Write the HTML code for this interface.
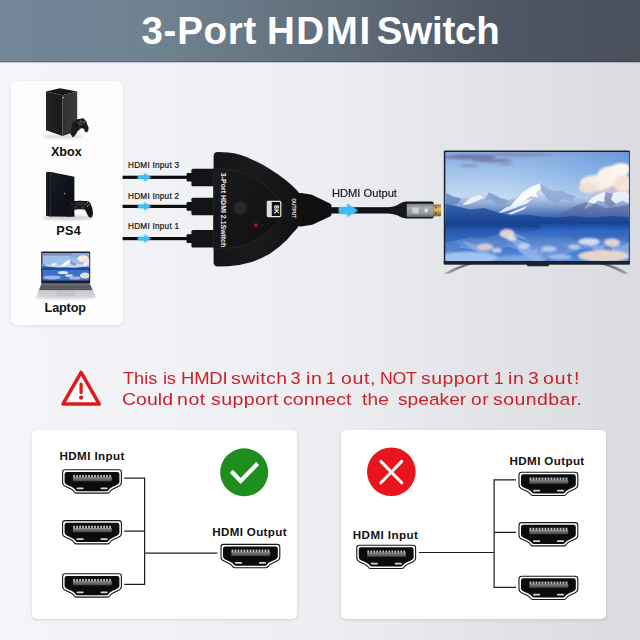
<!DOCTYPE html>
<html lang="en">
<head>
<meta charset="utf-8">
<title>3-Port HDMI Switch</title>
<style>
html,body{margin:0;padding:0;}
body{width:640px;height:640px;overflow:hidden;position:relative;font-family:"Liberation Sans",sans-serif;
  background:linear-gradient(90deg,#f4f5f9 0%,#f1f2f6 25%,#eceef1 50%,#e2e4e7 75%,#d9dbde 100%);}
#hdr{position:absolute;left:0;top:0;width:640px;height:62px;
  background:linear-gradient(90deg,#73869a 0%,#6f8290 25%,#5f6b78 55%,#4e5563 80%,#4a505c 100%);}
#hdr:after{content:"";position:absolute;left:0;right:0;bottom:-1px;height:2px;background:linear-gradient(180deg,rgba(40,45,55,.35),rgba(40,45,55,.18));}
.t{position:absolute;white-space:nowrap;line-height:1;margin:0;padding:0;}
.ttl{font-size:38.5px;font-weight:bold;color:#fff;}
.card{position:absolute;background:#fff;border-radius:6px;}
#devs{left:11px;top:81px;width:112px;height:244px;box-shadow:0 1px 3px rgba(120,130,150,.18);background:#fdfdfe;}
#pL{left:32px;top:430px;width:265px;height:189px;border-radius:5px;box-shadow:0 1px 3px rgba(90,95,110,.22);}
#pR{left:341px;top:430px;width:265px;height:189px;border-radius:5px;box-shadow:0 1px 3px rgba(90,95,110,.22);}
.dl{font-weight:bold;color:#111;font-size:12.6px;}
.il{color:#151515;font-size:8.2px;-webkit-text-stroke:.2px #151515;}
.olb{color:#151515;font-size:10.3px;transform-origin:0 0;-webkit-text-stroke:.15px #151515;}
.warn{color:#c9222b;font-size:17.4px;transform-origin:0 0;}
.pl{font-weight:bold;color:#111;font-size:11.6px;}
#gfx{position:absolute;left:0;top:0;width:640px;height:640px;}
</style>
</head>
<body>
<div id="hdr"></div>
<div id="title">
<span class="t ttl" style="left:141.5px;top:12px;letter-spacing:0.7px;">3-Port </span>
<span class="t ttl" style="left:267px;top:12px;letter-spacing:1.57px;">HDMI </span>
<span class="t ttl" style="left:376.8px;top:12px;letter-spacing:-0.22px;">Switch</span>
</div>

<div class="card" id="devs"></div>
<div class="card" id="pL"></div>
<div class="card" id="pR"></div>

<svg id="gfx" viewBox="0 0 640 640" width="640" height="640">
<defs>
<symbol id="port" viewBox="0 0 60 24.5" overflow="visible">
  <path d="M3.2,0.6 H56.8 Q59.4,0.6 59.4,3.2 V13.4 Q59.4,15.9 56.4,17.3 L51.4,19.6 Q48.8,20.8 47.8,22.6 Q47,23.9 45.4,23.9 H14.6 Q13,23.9 12.2,22.6 Q11.2,20.8 8.6,19.6 L3.6,17.3 Q0.6,15.9 0.6,13.4 V3.2 Q0.6,0.6 3.2,0.6Z" fill="#fff" stroke="#161616" stroke-width="1.1"/>
  <path d="M4.8,2.7 H55.2 Q57.4,2.7 57.4,4.9 V12.8 Q57.4,14.6 55.2,15.6 L50.2,17.9 Q47.4,19.2 46.2,21.2 Q45.7,22 44.6,22 H15.4 Q14.3,22 13.8,21.2 Q12.6,19.2 9.8,17.9 L4.8,15.6 Q2.6,14.6 2.6,12.8 V4.9 Q2.6,2.7 4.8,2.7Z" fill="#0b0b0c"/>
  <rect x="11" y="8" width="38.8" height="4.2" fill="url(#pins)"/>
  <path d="M11.2,8.2 V5.8 H12.9 V8.2 M14.2,8.2 V5.8 H15.9 V8.2 M17.2,8.2 V5.8 H18.9 V8.2 M20.2,8.2 V5.8 H21.9 V8.2 M23.2,8.2 V5.8 H24.9 V8.2 M26.2,8.2 V5.8 H27.9 V8.2 M29.2,8.2 V5.8 H30.9 V8.2 M32.2,8.2 V5.8 H33.9 V8.2 M35.2,8.2 V5.8 H36.9 V8.2 M38.2,8.2 V5.8 H39.9 V8.2 M41.2,8.2 V5.8 H42.9 V8.2 M44.2,8.2 V5.8 H45.9 V8.2 M47.2,8.2 V5.8 H48.9 V8.2" fill="#c9c9cb"/>
  <rect x="14.6" y="18.2" width="7" height="1.8" rx=".6" fill="#d6d6d8"/>
  <rect x="38.6" y="18.2" width="7" height="1.8" rx=".6" fill="#d6d6d8"/>
</symbol>
<linearGradient id="pins" x1="0" y1="0" x2="0" y2="1"><stop offset="0" stop-color="#8d8d90"/><stop offset="1" stop-color="#434346"/></linearGradient>
<filter id="glow" x="-30%" y="-60%" width="160%" height="220%"><feGaussianBlur stdDeviation="1.1"/></filter>
<filter id="b05"><feGaussianBlur stdDeviation="0.5"/></filter>
<filter id="b1"><feGaussianBlur stdDeviation="1"/></filter>
<filter id="b2" x="-20%" y="-20%" width="140%" height="140%"><feGaussianBlur stdDeviation="2"/></filter>
<linearGradient id="swbody" x1="0" y1="0" x2="1" y2="0"><stop offset="0" stop-color="#151517"/><stop offset=".5" stop-color="#1b1b1e"/><stop offset="1" stop-color="#111113"/></linearGradient>
<linearGradient id="swface" x1="0" y1="0" x2="1" y2="1"><stop offset="0" stop-color="#1a1a1d"/><stop offset="1" stop-color="#101012"/></linearGradient>
<linearGradient id="metal" x1="0" y1="0" x2="0" y2="1"><stop offset="0" stop-color="#7d8188"/><stop offset=".3" stop-color="#a6aab1"/><stop offset=".75" stop-color="#92969d"/><stop offset="1" stop-color="#62666d"/></linearGradient>
<linearGradient id="gold" x1="0" y1="0" x2="0" y2="1"><stop offset="0" stop-color="#8a6a28"/><stop offset=".4" stop-color="#e6c46a"/><stop offset="1" stop-color="#7a5a20"/></linearGradient>
<symbol id="arw" viewBox="0 0 14 10" overflow="visible">
  <path d="M0.6,3.1 H7 V0.3 L13.6,5 L7,9.7 V6.9 H0.6 Z" fill="#7fd6f8" filter="url(#glow)" opacity=".9"/>
  <path d="M0.6,3.2 H7 V0.6 L13.4,5 L7,9.4 V6.8 H0.6 Q-0.4,5 0.6,3.2Z" fill="#3fbdf2"/>
</symbol>
<clipPath id="tvclip"><rect x="445.4" y="152" width="183.4" height="109.2"/></clipPath>
<linearGradient id="sky" x1="0" y1="0" x2="0" y2="1"><stop offset="0" stop-color="#86aadf"/><stop offset=".3" stop-color="#a3c4eb"/><stop offset=".62" stop-color="#c3d9f1"/><stop offset="1" stop-color="#d3e3f4"/></linearGradient>
<radialGradient id="skyR" cx="1" cy="0" r=".75" gradientTransform="scale(1,1.6)"><stop offset="0" stop-color="#5f93da" stop-opacity=".85"/><stop offset=".55" stop-color="#7aa8e2" stop-opacity=".4"/><stop offset="1" stop-color="#8db4e6" stop-opacity="0"/></radialGradient>
<linearGradient id="mtn" x1="0" y1="0" x2="0" y2="1"><stop offset="0" stop-color="#e6edf7"/><stop offset=".3" stop-color="#c3d2ea"/><stop offset=".55" stop-color="#86a3d2"/><stop offset=".8" stop-color="#426fb6"/><stop offset="1" stop-color="#2857a6"/></linearGradient>
<linearGradient id="mtnF" x1="0" y1="0" x2="0" y2="1"><stop offset="0" stop-color="#3565b2"/><stop offset="1" stop-color="#173f90"/></linearGradient>
<linearGradient id="water" x1="0" y1="0" x2="0" y2="1"><stop offset="0" stop-color="#1a4596"/><stop offset=".18" stop-color="#2a5fbc"/><stop offset=".55" stop-color="#3d75d0"/><stop offset="1" stop-color="#5a8ddc"/></linearGradient>
<linearGradient id="foot" x1="0" y1="0" x2="0" y2="1"><stop offset="0" stop-color="#5b5f66"/><stop offset="1" stop-color="#a4a8ae"/></linearGradient>
<g id="mtns">
  <path d="M444.5,191.5 L452.1,196 L461.2,198.1 L470.3,197.5 L479.4,194.5 L488.5,192.1 L494.6,194.5 L500.6,198.1 L508.2,200 L515.8,197.5 L523.4,191.5 L530.9,186.9 L540,183.3 L546.1,186.9 L553.7,190.9 L561.2,190 L567.3,193 L576.4,196 L585.5,198.1 L591.6,197.5 L597.6,194.5 L605.2,191.5 L612.8,193 L618.8,191.5 L624.9,191.5 L630,193 V224 H444 Z" fill="url(#mtn)"/>
  <path d="M444.5,191.8 L452,196.2 L461,198.4 L458,203 L452,206 L444.5,207 Z" fill="#5f83c2" opacity=".8"/>
  <path d="M488.5,192.3 L494.6,194.7 L500.6,198.3 L508,200.2 L504,204.6 L496,203 L490,199 L484,201.6 L487,196.4 Z" fill="#7f9dcf" opacity=".85"/>
  <path d="M470,198 L479.4,194.8 L484,197.6 L476,201.4 L468,204.6 L462,205 Z" fill="#f2f6fb" opacity=".9"/>
  <path d="M540,183.5 L546.1,187.1 L553.7,191.1 L561.2,190.2 L567.3,193.2 L576,196.2 L572,201 L562,199.4 L556,203.4 L548,199.6 L544,194.4 L541,190 Z" fill="#8aa5d4" opacity=".8"/>
  <path d="M523.4,191.8 L530.9,187.1 L540,183.6 L540.6,189 L536,193 L538,197.6 L531,196 L525,200.4 L517,204.6 L510,206.4 L516,199.6 Z" fill="#f7f9fc"/>
  <path d="M506,207.6 L524,200.4 L533,198.6 L527,203.4 L514,208.6 L502,212.6 L498,213 Z M508,213.4 L528,205.4 L524,209.4 L511,214.6 Z" fill="#eef3fa" opacity=".92"/>
  <path d="M597.6,194.8 L605.2,191.8 L609,194.6 L604,198 L606,202 L598,200.4 L592,205.4 L584,209 L588,202 L592,198 Z" fill="#f4f6fb" opacity=".95"/>
  <path d="M612.8,193.2 L618.8,191.8 L624.9,191.8 L630,193.2 V204 L622,200.4 L616,204 L611,199.6 Z" fill="#eef1f8" opacity=".9"/>
  <path d="M605.2,192 L612.8,193.4 L611,199.8 L616,204.2 L610,208 L604,203 Z" fill="#7b7fb0" opacity=".7"/>
  <path d="M560,214 L574,206.6 L586,202 L596,204 L606,208.6 L618,206.6 L630,204 V224 H552 Z" fill="#5b5f98" opacity=".55"/>
  <path d="M444,203.6 L456,206 L470,209.4 L484,208 L496,212 L510,215.6 L526,214.6 L540,216.6 L556,217.4 L574,216 L592,217.6 L612,216 L630,217 V224 H444 Z" fill="url(#mtnF)"/>
</g>
<linearGradient id="xbL" x1="0" y1="0" x2="1" y2="0"><stop offset="0" stop-color="#232325"/><stop offset="1" stop-color="#1a1a1c"/></linearGradient>
<linearGradient id="xbR" x1="0" y1="0" x2="1" y2="0"><stop offset="0" stop-color="#303033"/><stop offset="1" stop-color="#3c3c3f"/></linearGradient>
<linearGradient id="psF" x1="0" y1="0" x2="1" y2="1"><stop offset="0" stop-color="#1b1e2a"/><stop offset=".5" stop-color="#12141c"/><stop offset="1" stop-color="#0b0c12"/></linearGradient>
<linearGradient id="lapB" x1="0" y1="0" x2="0" y2="1"><stop offset="0" stop-color="#8c8f96"/><stop offset=".45" stop-color="#a9acb2"/><stop offset=".5" stop-color="#c6c8cd"/><stop offset="1" stop-color="#d4d6da"/></linearGradient>
<clipPath id="lapclip"><rect x="42.4" y="253" width="46.8" height="27.6"/></clipPath>
<g id="pad">
  <path d="M3.2,3.4 Q3.6,1 6,0.8 L8,0.6 Q9,1.8 11.5,1.8 Q14,1.8 15,0.6 L17,0.8 Q19.4,1 19.8,3.4 L22.6,13 Q23.4,17 21,17.4 Q19,17.6 17.6,15 L15.4,10.6 Q14.8,9.8 13.6,9.8 H9.4 Q8.2,9.8 7.6,10.6 L5.4,15 Q4,17.6 2,17.4 Q-0.4,17 0.4,13 Z"/>
</g>
</defs>
<!-- warning icon -->
<path d="M81.1,372.4 L99.3,404.1 H62.9 Z" fill="#fbfbfc" stroke="#df1a1c" stroke-width="3.5" stroke-linejoin="round"/>
<path d="M81.1,384.1 V392.6" stroke="#df1a1c" stroke-width="3.2" stroke-linecap="round" fill="none"/>
<circle cx="81.1" cy="397.6" r="2.1" fill="#df1a1c"/>

<!-- left panel: 3 in 1 out (OK) -->
<use href="#port" x="62" y="469.2" width="60" height="24.5"/>
<use href="#port" x="62" y="520" width="60" height="24.5"/>
<use href="#port" x="62" y="573.2" width="60" height="24.5"/>
<use href="#port" x="220.4" y="543.8" width="60" height="24.5"/>
<path d="M124.2,478.2 H144.6 M124.2,531.2 H144.6 M124.2,584.4 H144.6 M144.6,477.6 V585 M144.6,553.2 H217.4" stroke="#1d1d1d" stroke-width="1.2" fill="none"/>
<circle cx="244.2" cy="472.3" r="24" fill="#1e8f1f"/>
<path d="M231.3,471.2 L240.6,481 L257.6,463.5" stroke="#fff" stroke-width="4.2" fill="none" stroke-linejoin="miter"/>

<!-- right panel: 1 in 3 out (NOT OK) -->
<use href="#port" x="518.4" y="471.6" width="60" height="24.5"/>
<use href="#port" x="518.4" y="522" width="60" height="24.5"/>
<use href="#port" x="518.4" y="575.6" width="60" height="24.5"/>
<use href="#port" x="356.2" y="544.6" width="60" height="24.5"/>
<path d="M494.1,479.9 H516 M494.1,532.3 H516 M494.1,587.4 H516 M494.1,479.3 V588 M419,552.5 H494.1" stroke="#1d1d1d" stroke-width="1.2" fill="none"/>
<circle cx="391.3" cy="471.7" r="24.3" fill="#e9151c"/>
<path d="M380.9,461.4 L401.7,482.8 M401.7,461.4 L380.9,482.8" stroke="#fff" stroke-width="3" stroke-linecap="round" fill="none"/>
<!-- input cables -->
<g fill="#0d0d0f">
<rect x="122.6" y="175.7" width="66" height="3.2"/>
<rect x="122.6" y="204.8" width="66" height="3.2"/>
<rect x="122.6" y="237" width="66" height="3.2"/>
<rect x="186.6" y="173" width="6" height="8.6" rx="1"/>
<rect x="186.6" y="202.1" width="6" height="8.6" rx="1"/>
<rect x="186.6" y="234.3" width="6" height="8.6" rx="1"/>
<rect x="191.4" y="168.7" width="24" height="17.6" rx="1.6" fill="#141416"/>
<rect x="191.4" y="197.7" width="24" height="17.6" rx="1.6" fill="#141416"/>
<rect x="191.4" y="229.9" width="24" height="17.6" rx="1.6" fill="#141416"/>
</g>
<use href="#arw" x="137.4" y="172.5" width="14" height="9.6"/>
<use href="#arw" x="137.4" y="201.6" width="14" height="9.6"/>
<use href="#arw" x="137.4" y="233.8" width="14" height="9.6"/>

<!-- output cable + strain relief -->
<rect x="329" y="207.2" width="64" height="6.3" fill="#111113"/>
<path d="M299,193.2 Q299.6,192.8 301,193 L310.6,194.4 Q312,194.6 313.4,195.4 L330,203.4 Q331.4,204 331.4,205.4 V214.6 Q331.4,216 330,216.6 L313.4,224.2 Q312,224.9 310.6,225.1 L301,226.4 Q299.6,226.6 299,226.2 Z" fill="#101012"/>

<!-- switch body -->
<path d="M213.6,156.4 Q213.6,152 218,152 L228,152.4 Q240,153.4 251.9,159.4 Q262,164 270.6,169.6 Q280,175.6 286.3,180.6 Q293,186.4 297.2,190.6 Q300,193.4 300,197 V222 Q300,225.4 297.2,228.2 Q293,232.6 286.3,240.6 Q280,246.8 270.6,253.2 Q262,258.4 251.9,262 Q240,265.6 228,266.2 L218,266.5 Q213.6,266.5 213.6,262.2 Z" fill="url(#swbody)"/>
<path d="M213.6,168.4 Q226,168.6 236.3,170.8 Q246,173.4 255,178.6 Q264,184 270.6,190.3 Q277,196.4 281.6,202.8 Q284,206.6 284,209.6 Q284,213 281.6,217.5 Q277,224 270.6,228.8 Q264,234.4 255,240.2 Q246,244.8 236.3,247.2 Q226,248.6 213.6,248.4 Z" fill="url(#swface)" stroke="#2b2b2f" stroke-width=".7"/>
<circle cx="240.4" cy="207.8" r="6.6" fill="#29292c"/>
<circle cx="255.8" cy="225.3" r="3" fill="#a3101c" opacity=".4" filter="url(#b1)"/>
<circle cx="255.8" cy="225.3" r="1.4" fill="#b8162a"/>
<!-- 8K badge -->
<rect x="267.3" y="201.4" width="13.5" height="15.2" rx="1.4" fill="#0c0c0d" stroke="#ececee" stroke-width="1.2"/>
<rect x="267.6" y="201.8" width="4.2" height="14.4" fill="#dcdcdf"/>
<text transform="translate(273.6,205) rotate(90)" font-family="Liberation Sans, sans-serif" font-weight="bold" font-size="6.8" fill="#f2f2f3" textLength="9" lengthAdjust="spacingAndGlyphs">8K</text>
<text transform="translate(292.1,198.2) rotate(90)" font-family="Liberation Sans, sans-serif" font-weight="bold" font-size="5.5" fill="#f0f0f1" textLength="19.9" lengthAdjust="spacingAndGlyphs">OUTPUT</text>
<text transform="translate(220.8,172.8) rotate(90)" font-family="Liberation Sans, sans-serif" font-weight="bold" font-size="7.6" fill="#f3f3f4" textLength="74.4" lengthAdjust="spacingAndGlyphs">3-Port HDMI 2.1Switch</text>
<circle cx="262.4" cy="225" r="1.3" fill="#0f3a1c" opacity=".8"/>

<!-- output connector -->
<path d="M389,207.2 Q396,206.6 400,203.6 Q403,201.4 406.4,201.4 H432 Q433.6,201.4 433.6,203 V216.8 Q433.6,218.6 432,218.6 H406.4 Q403,218.6 400,216.8 Q396,214.2 389,213.5 Z" fill="#16171a"/>
<rect x="406.8" y="203.7" width="26.4" height="13.2" rx=".8" fill="url(#metal)"/>
<rect x="412.4" y="207.4" width="6.4" height="6.2" rx=".8" fill="#d8dade" opacity=".8"/>
<rect x="424.4" y="208.6" width="3.6" height="3.8" rx=".8" fill="#e6e8ea" opacity=".8"/>
<rect x="433.6" y="204.4" width="7.4" height="11.8" rx=".8" fill="url(#gold)"/>
<rect x="435" y="206.6" width="1.6" height="2" fill="#4a3a14" opacity=".7"/><rect x="435" y="212" width="1.6" height="2" fill="#4a3a14" opacity=".7"/>
<path d="M339.4,207 H347.2 V203.4 L357.8,210.4 L347.2,217.4 V213.8 H339.4 Q338,210.4 339.4,207Z" fill="#7fd6f8" filter="url(#glow)" opacity=".9"/>
<path d="M339.4,207.1 H347.2 V203.8 L357.4,210.4 L347.2,217 V213.7 H339.4 Q338.2,210.4 339.4,207.1Z" fill="#3fbdf2"/>
<!-- TV -->
<path d="M474,264 Q462,266.6 449.6,273.8 L444,273.8 Q456,266 470,263 Z" fill="url(#foot)"/>
<path d="M599,264 Q611,266.6 623.4,273.8 L629,273.8 Q617,266 603,263 Z" fill="url(#foot)"/>
<rect x="443.8" y="150.4" width="186" height="114" rx="1.2" fill="#1b2330"/>
<rect x="527" y="263.4" width="22" height="2.8" rx="1" fill="#1b2330"/>
<g clip-path="url(#tvclip)">
  <rect x="445" y="151" width="185" height="72.5" fill="url(#sky)"/>
  <rect x="445" y="151" width="185" height="72.5" fill="url(#skyR)"/>
  <g filter="url(#b1)" opacity=".85">
    <ellipse cx="470" cy="157" rx="26" ry="2.6" fill="#6d70a0"/>
    <ellipse cx="492" cy="160.6" rx="20" ry="1.8" fill="#7477a6"/>
    <ellipse cx="520" cy="154.6" rx="34" ry="1.8" fill="#8288b4"/>
    <ellipse cx="470" cy="165.6" rx="9" ry="1.1" fill="#7e84b2"/>
    <ellipse cx="506" cy="164" rx="8" ry="1.2" fill="#8a90bb"/>
    <ellipse cx="585" cy="153.6" rx="40" ry="1.2" fill="#8d95c0" opacity=".7"/>
  </g>
  <g filter="url(#b1)">
    <ellipse cx="604" cy="188" rx="26" ry="7" fill="#c9bfd6"/>
    <ellipse cx="596" cy="183" rx="16" ry="8" fill="#f6ebe0"/>
    <ellipse cx="612" cy="176" rx="15" ry="10" fill="#fbf2e8"/>
    <ellipse cx="621" cy="169" rx="10" ry="6" fill="#fdf6ee"/>
    <ellipse cx="624" cy="184" rx="10" ry="9" fill="#f3e2d6"/>
    <ellipse cx="588" cy="188" rx="9" ry="5" fill="#efe0d8"/>
  </g>
  <use href="#mtns"/>
  <rect x="445" y="222.8" width="185" height="40" fill="url(#water)"/>
  <g transform="translate(0,446.4) scale(1,-1)" opacity=".38" filter="url(#b05)"><use href="#mtns"/></g>
  <rect x="445" y="222.8" width="185" height="4.6" fill="#1a4492" opacity=".8"/>
  <rect x="540" y="225" width="90" height="11" fill="#2a6ad0" opacity=".45" filter="url(#b1)"/>
  <g filter="url(#b1)">
    <ellipse cx="468" cy="258" rx="30" ry="6.5" fill="#a9c9ee" opacity=".9"/>
    <ellipse cx="520" cy="259" rx="26" ry="4" fill="#8fb4e6" opacity=".7"/>
    <ellipse cx="507" cy="233.6" rx="7.5" ry="4.6" fill="#efdcd6" opacity=".9"/>
    <ellipse cx="512" cy="238" rx="5" ry="3" fill="#f4ece8" opacity=".8"/>
    <ellipse cx="485" cy="247" rx="8" ry="3.4" fill="#ecd6d0" opacity=".85"/>
    <ellipse cx="497" cy="250.4" rx="5" ry="2.4" fill="#f2e8e6" opacity=".75"/>
    <ellipse cx="524" cy="246" rx="6" ry="3" fill="#d9e3f4" opacity=".7"/>
    <ellipse cx="549" cy="249" rx="8" ry="3" fill="#d5e1f4" opacity=".7"/>
    <ellipse cx="589" cy="241.6" rx="11" ry="3.6" fill="#e9ecf6" opacity=".85"/>
    <ellipse cx="612" cy="242.6" rx="8" ry="4" fill="#f0ddd2" opacity=".9"/>
    <ellipse cx="574" cy="247" rx="6" ry="2.4" fill="#dfe6f4" opacity=".7"/>
    <ellipse cx="604" cy="256" rx="26" ry="6" fill="#ecd8ca" opacity=".95"/>
    <ellipse cx="560" cy="257" rx="12" ry="3" fill="#b9cdec" opacity=".7"/>
  </g>
</g>
<rect x="443.8" y="261" width="186" height="3.4" fill="#1a212d"/>
<!-- Xbox -->
<ellipse cx="63" cy="136.6" rx="20" ry="2.2" fill="#9a9ca3" opacity=".35" filter="url(#b1)"/>
<path d="M46,91.6 L62.4,95.2 V136 L46,130.2 Z" fill="url(#xbL)"/>
<path d="M62.4,95.2 L77.2,91.6 V131.2 L62.4,136 Z" fill="url(#xbR)"/>
<path d="M46,91.6 L60,88.2 L77.2,91.6 L62.4,95.2 Z" fill="#171718"/>
<circle cx="63.6" cy="97.6" r=".7" fill="#e8e8ea"/>
<path d="M74.0,121.5 C76.7,119.9 76.8,119.2 80.5,118.8 C84.2,118.2 82.7,117.9 85.0,120.0 C87.3,122.1 86.3,122.0 87.5,125.0 C88.7,128.0 88.7,126.7 88.5,129.0 C88.3,131.3 88.2,131.2 87.0,132.0 C85.8,132.8 86.3,132.7 85.0,131.5 C83.7,130.3 85.0,129.0 83.0,128.5 C81.0,128.0 81.3,128.2 79.0,130.0 C76.7,131.8 77.8,131.8 76.0,134.0 C74.2,136.2 75.0,136.2 73.5,136.8 C72.0,137.2 72.5,137.1 71.5,135.5 C70.5,133.9 70.5,134.8 70.5,132.0 C70.5,129.2 70.8,129.8 71.5,127.0 C72.2,124.2 71.7,125.3 72.5,123.5 C73.3,121.7 71.3,123.1 74.0,121.5Z" fill="#1b1b1d"/>
<ellipse cx="80.6" cy="123.4" rx="4.4" ry="2.4" transform="rotate(-18 80.6 123.4)" fill="#38383c"/>
<circle cx="77" cy="125.6" r="1.5" fill="#0e0e10"/>
<circle cx="82.4" cy="126.6" r="1.3" fill="#0e0e10"/>
<circle cx="84.6" cy="122" r=".6" fill="#b9b9bd"/><circle cx="80.4" cy="121" r=".6" fill="#a8a8ac"/><circle cx="80" cy="128.2" r=".5" fill="#8c8c90"/>

<!-- PS4 -->
<ellipse cx="68" cy="217.8" rx="26" ry="2.4" fill="#8d8f98" opacity=".4" filter="url(#b1)"/>
<path d="M46,172.6 L51,172 L74.4,176.8 V216.8 L51,216.4 L46,215.8 Z" fill="url(#psF)"/>
<path d="M46,172.6 L51,172 V216.4 L46,215.8 Z" fill="#1d2130"/>
<path d="M48.4,172.4 V216" stroke="#05060a" stroke-width=".8"/>
<circle cx="64.6" cy="193.6" r=".8" fill="#8f96aa"/>
<path d="M70.4,202.4 C72.6,200.8 69.8,201.5 74.9,201.0 C80.0,200.5 80.9,200.7 85.6,201.0 C90.3,201.3 87.1,200.5 89.0,201.9 C90.9,203.3 90.0,202.2 91.2,205.2 C92.4,208.2 92.3,207.3 92.7,210.9 C93.1,214.5 93.3,213.8 92.4,215.9 C91.5,218.0 91.6,217.5 90.1,217.3 C88.6,217.1 89.4,217.5 87.9,215.4 C86.4,213.3 87.1,212.9 85.6,210.9 C84.1,208.9 86.8,209.9 83.4,209.5 C80.0,209.1 78.9,209.2 75.5,209.7 C72.1,210.2 74.5,209.2 73.2,210.9 C71.9,212.6 72.9,212.9 71.6,214.8 C70.3,216.7 70.7,216.3 69.3,216.5 C67.9,216.7 68.0,217.3 67.3,215.4 C66.6,213.5 66.8,214.1 67.1,210.9 C67.4,207.7 67.1,208.6 68.2,205.8 C69.3,203.0 68.2,204.0 70.4,202.4Z" fill="#131419"/>
<path d="M75,202.2 H85.4 L84.6,205.4 H75.8 Z" fill="#2a2c34"/>
<circle cx="75.6" cy="207" r="1.6" fill="#30323a"/><circle cx="82.8" cy="207.2" r="1.6" fill="#30323a"/>
<circle cx="87.4" cy="202.6" r=".6" fill="#d8d8dc"/><circle cx="89" cy="204.8" r=".6" fill="#d0d0d4"/><circle cx="87.6" cy="206.2" r=".6" fill="#c8c8cc"/><circle cx="85.8" cy="204.2" r=".55" fill="#b8b8bc"/>
<circle cx="72" cy="204.2" r=".9" fill="#3a3c44"/>

<!-- Laptop -->
<ellipse cx="66" cy="297.6" rx="31" ry="1.6" fill="#8d8f98" opacity=".35" filter="url(#b1)"/>
<path d="M41.2,284 H90.2 L95.4,296 Q95.7,297.4 94.4,297.4 H37.6 Q36.3,297.4 36.6,296 Z" fill="url(#lapB)"/>
<path d="M41.4,284.6 H90 L92.2,290 H39.2 Z" fill="#4f5259"/>
<path d="M42,285.6 H89.4 M41.6,287 H89.9 M41.1,288.4 H90.5" stroke="#7a7d84" stroke-width=".5" stroke-dasharray="1.3 .5"/>
<rect x="57.4" y="291.2" width="17" height="4.6" rx=".6" fill="#c3c5ca" stroke="#aeb0b6" stroke-width=".35"/>
<rect x="41.2" y="251.6" width="49" height="32.2" rx="1.2" fill="#1d2027"/>
<g clip-path="url(#lapclip)">
  <rect x="42" y="253" width="48" height="15" fill="#9dbfe8"/>
  <rect x="42" y="253" width="30" height="2.6" fill="#6f7fb0" opacity=".75" filter="url(#b05)"/>
  <rect x="70" y="251" width="22" height="7" fill="#6f9ad8" opacity=".55" filter="url(#b1)"/>
  <g filter="url(#b05)"><ellipse cx="83" cy="258.6" rx="5.6" ry="3.4" fill="#f6ece2"/><ellipse cx="87" cy="261.4" rx="4" ry="2.6" fill="#efe0d8"/></g>
  <path d="M42,263 L46,264.4 L50,264.8 L55,262.6 L58,264.4 L61,265 L65,262 L69.6,259.4 L73,262 L77,263.4 L81,264.4 L85,262.6 L90,263 V268 H42 Z" fill="#c9d8ee"/>
  <path d="M65,262.2 L69.6,259.6 L70.4,262 L68,264 L64,266 L61,266.6 Z M85,262.8 L88,262.8 L86,265.4 L83,266.6 Z M52,264 L55,262.8 L56,264.6 L52,266 Z" fill="#fbfcfe"/>
  <path d="M69.8,259.8 L73,262.2 L77,263.6 L75,266 L71,264.6 Z M42,263.2 L46,264.6 L45,267 L42,267 Z" fill="#7f9ccd"/>
  <path d="M42,266 L50,266.8 L58,267.6 L66,267.2 L74,267.8 L82,267 L90,266.6 V269 H42 Z" fill="#2556a6"/>
  <rect x="42" y="268" width="48" height="2.2" fill="#1d4a9a"/>
  <rect x="42" y="270" width="48" height="11" fill="#3c72cc"/>
  <g filter="url(#b05)"><ellipse cx="63" cy="272.6" rx="5" ry="1.5" fill="#eef0f6" opacity=".95"/><ellipse cx="69" cy="275.6" rx="4" ry="1.4" fill="#e6e4ea" opacity=".9"/><ellipse cx="85" cy="275.6" rx="5" ry="3" fill="#f2e4da" opacity=".95"/><ellipse cx="52" cy="277.4" rx="9" ry="2" fill="#a9c3ec" opacity=".85"/><ellipse cx="75" cy="278" rx="6" ry="1.6" fill="#b9cdf0" opacity=".8"/></g>
</g>
</svg>

<span class="t dl" style="left:51px;top:145.7px;letter-spacing:-0.03px;">Xbox </span>
<span class="t dl" style="left:56.2px;top:224.7px;letter-spacing:0.38px;">PS4 </span>
<span class="t dl" style="left:44.6px;top:301.9px;letter-spacing:-0.12px;">Laptop </span>

<span class="t il" style="left:128px;top:162.1px;letter-spacing:0.25px;">HDMI Input 3 </span>
<span class="t il" style="left:128px;top:193.1px;letter-spacing:0.25px;">HDMI Input 2 </span>
<span class="t il" style="left:128px;top:223.1px;letter-spacing:0.25px;">HDMI Input 1 </span>
<span class="t olb" style="left:332.1px;top:188.6px;letter-spacing:-0.01px;transform:scaleX(1.083);">HDMI Output </span>

<div id="w1">
<span class="t warn" style="left:122.8px;top:369.6px;letter-spacing:0.06px;transform:scaleX(1.036);">This </span>
<span class="t warn" style="left:162.6px;top:369.6px;letter-spacing:-0.28px;transform:scaleX(1.064);">is </span>
<span class="t warn" style="left:180.6px;top:369.6px;letter-spacing:-0.16px;transform:scaleX(1.06);">HMDI </span>
<span class="t warn" style="left:230.8px;top:369.6px;letter-spacing:0.35px;transform:scaleX(1.12);">switch </span>
<span class="t warn" style="left:290.8px;top:369.6px;">3 </span>
<span class="t warn" style="left:305.8px;top:369.6px;letter-spacing:0.54px;transform:scaleX(1.12);">in </span>
<span class="t warn" style="left:326px;top:369.6px;">1 </span>
<span class="t warn" style="left:340.6px;top:369.6px;letter-spacing:0.57px;transform:scaleX(1.12);">out, </span>
<span class="t warn" style="left:380.2px;top:369.6px;letter-spacing:-0.2px;transform:scaleX(1.017);">NOT </span>
<span class="t warn" style="left:420.9px;top:369.6px;letter-spacing:0.41px;transform:scaleX(1.12);">support </span>
<span class="t warn" style="left:493.8px;top:369.6px;transform:scaleX(0.994);">1 </span>
<span class="t warn" style="left:508.3px;top:369.6px;letter-spacing:0.54px;transform:scaleX(1.12);">in </span>
<span class="t warn" style="left:528px;top:369.6px;transform:scaleX(1.1);">3 </span>
<span class="t warn" style="left:543px;top:369.6px;letter-spacing:0.89px;transform:scaleX(1.12);">out </span>
<span class="t warn" style="left:573.7px;top:369.6px;transform:scaleX(1.12);">! </span>
</div>
<div id="w2">
<span class="t warn" style="left:121.8px;top:391.2px;letter-spacing:0.04px;transform:scaleX(1.118);">Could </span>
<span class="t warn" style="left:177.3px;top:391.2px;letter-spacing:0.54px;transform:scaleX(1.12);">not </span>
<span class="t warn" style="left:210.6px;top:391.2px;letter-spacing:0.38px;transform:scaleX(1.12);">support </span>
<span class="t warn" style="left:283.3px;top:391.2px;letter-spacing:0.03px;transform:scaleX(1.12);">connect </span>
<span class="t warn" style="left:362.2px;top:391.2px;letter-spacing:0.16px;transform:scaleX(1.098);">the </span>
<span class="t warn" style="left:398px;top:391.2px;letter-spacing:0.02px;transform:scaleX(1.1);">speaker </span>
<span class="t warn" style="left:470.7px;top:391.2px;letter-spacing:0.45px;transform:scaleX(1.1);">or </span>
<span class="t warn" style="left:492.8px;top:391.2px;letter-spacing:0.37px;transform:scaleX(1.12);">soundbar. </span>
</div>

<span class="t pl" style="left:59.5px;top:450.4px;letter-spacing:0.42px;">HDMI Input </span>
<span class="t pl" style="left:212.3px;top:526.3px;letter-spacing:0.34px;">HDMI Output </span>
<span class="t pl" style="left:352.8px;top:529.1px;letter-spacing:0.42px;">HDMI Input </span>
<span class="t pl" style="left:509.6px;top:455px;letter-spacing:0.38px;">HDMI Output </span>
</body>
</html>
